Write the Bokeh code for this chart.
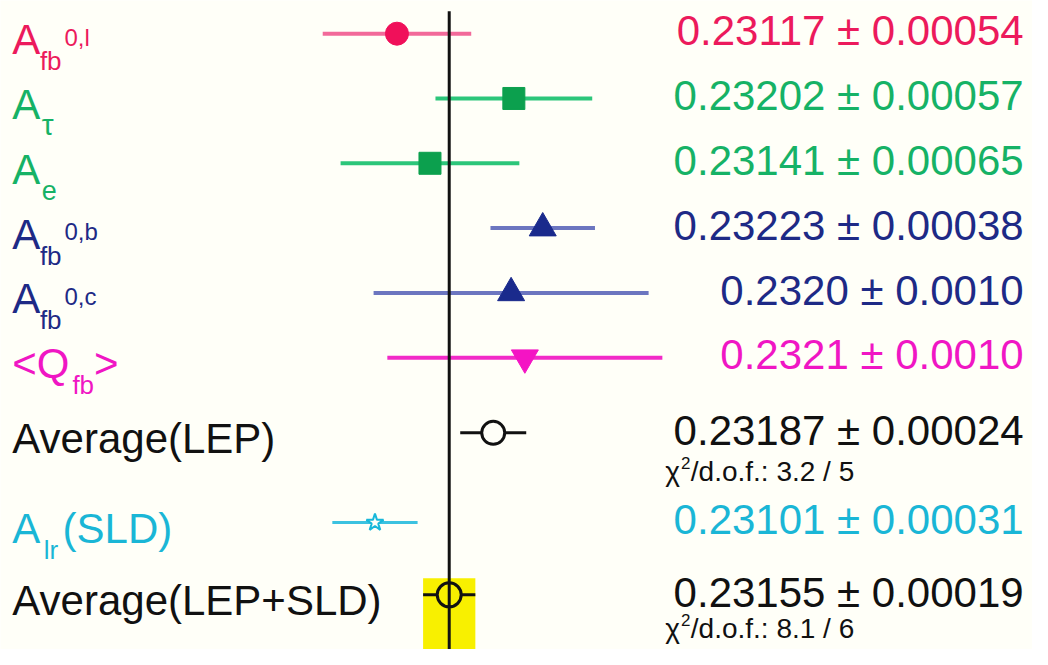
from bokeh.plotting import figure
from bokeh.models import Range1d
from bokeh.embed import file_html
from bokeh.resources import INLINE
from bokeh.core.properties import value

# ---------------- data ----------------
labels_main = ["A", "A", "A", "A", "A", "<Q", "Average(LEP)", "A", "Average(LEP+SLD)"]
labels_sub = ["fb", "τ", "e", "fb", "fb", "fb", "", "lr", ""]
labels_sup = ["0,l", "", "", "0,b", "0,c", "", "", "", ""]
labels_tail = ["", "", "", "", "", ">", "", "(SLD)", ""]
values = [0.23117, 0.23202, 0.23141, 0.23223, 0.2320, 0.2321, 0.23187, 0.23101, 0.23155]
errors = [0.00054, 0.00057, 0.00065, 0.00038, 0.0010, 0.0010, 0.00024, 0.00031, 0.00019]
value_texts = ["0.23117 ± 0.00054", "0.23202 ± 0.00057", "0.23141 ± 0.00065",
               "0.23223 ± 0.00038", "0.2320 ± 0.0010", "0.2321 ± 0.0010",
               "0.23187 ± 0.00024", "0.23101 ± 0.00031", "0.23155 ± 0.00019"]
chi2_rows = [6, 8]
chi2_texts = ["/d.o.f.: 3.2 / 5", "/d.o.f.: 8.1 / 6"]
average_value = 0.23155
average_error = 0.00019

# ---------------- style / layout ----------------
BG = "#fffff8"
FONT = value("Liberation Sans")
text_colors = ["#ec1a5c", "#16b266", "#16b266", "#1e2a86", "#1e2a86", "#f016c4", "#111111", "#1ab6d6", "#111111"]
mark_colors = ["#f0105a", "#0ca04e", "#0ca04e", "#1a2a8c", "#1a2a8c", "#f414c4", "#111111", "#18b8da", "#111111"]
bar_colors = ["#f26a9a", "#2cc67a", "#2cc67a", "#6c76c0", "#6c76c0", "#f22ac8", "#111111", "#3cc2e0", "#111111"]
markers = ["circle", "square", "square", "triangle", "triangle", "inverted_triangle", "circle", "star", "circle"]
sizes = [23, 22, 22, 27, 27, 27, 23, 18, 24]
fills = ["#f0105a", "#0ca04e", "#0ca04e", "#1a2a8c", "#1a2a8c", "#f414c4", BG, BG, "#f8f000"]
mark_lw = [1, 1, 1, 1, 1, 1, 3, 2, 3]
bar_lw = [4, 4, 4, 4, 4, 4, 3, 3, 3]
row_pos = [0, 1, 2, 3, 4, 5, 6.16, 7.545, 8.66]
sub_x = [40, 42, 42, 40, 40, 73, 0, 44, 0]
sub_fs = [26, 30, 27, 26, 26, 26, 0, 26, 0]
sup_x = [65, 0, 0, 65, 65, 0, 0, 0, 0]
tail_x = [0, 0, 0, 0, 0, 95, 0, 63, 0]

# reference-pixel geometry, scaled into the figure
REF_W, REF_H = 1048, 665
W, H = 1032, 649
SX, SY = W / REF_W, H / REF_H
REF_PX_PER_UNIT = 139640.0
X_REF_VAL, X_REF_PX = 0.2317067, 477.56
x_start = X_REF_VAL - X_REF_PX / REF_PX_PER_UNIT
x_end = X_REF_VAL + (REF_W - X_REF_PX) / REF_PX_PER_UNIT
ROW_PITCH, ROW0_PX = 66.4, 34.0
y_top = -ROW0_PX / ROW_PITCH
y_bot = (REF_H - ROW0_PX) / ROW_PITCH

p = figure(width=W, height=H, x_range=Range1d(x_start, x_end), y_range=Range1d(y_bot, y_top),
           output_backend="svg", toolbar_location=None, min_border=0,
           x_axis_location=None, y_axis_location=None)
p.grid.visible = False
p.outline_line_color = None
p.background_fill_color = BG
p.border_fill_color = BG

# yellow band of the combined average
band_top = row_pos[8] - (609 - 592) / ROW_PITCH
p.quad(left=[average_value - average_error], right=[average_value + average_error],
       top=[band_top], bottom=[y_bot + 1], fill_color="#f8f000", line_color=None)

# error bars and markers
for i in range(len(values)):
    v, e, y = values[i], errors[i], row_pos[i]
    p.segment(x0=[v - e], x1=[v + e], y0=[y], y1=[y], line_color=bar_colors[i], line_width=bar_lw[i])
    p.scatter(x=[v], y=[y], marker=markers[i], size=sizes[i], fill_color=fills[i],
              line_color=mark_colors[i], line_width=mark_lw[i])

# vertical reference line at the average
line_top = (11 - ROW0_PX) / ROW_PITCH
p.segment(x0=[average_value], x1=[average_value], y0=[line_top], y1=[y_bot + 1],
          line_color="#111111", line_width=3)


def put_text(y, txt, ref_x, ref_dy, fs, color, align="left", anchor=None):
    """ref_x: left x in reference pixels; ref_dy: baseline offset below row centre."""
    x0 = x_start if anchor is None else anchor
    p.text(x=[x0], y=[y], text=[txt], x_offset=ref_x * SX, y_offset=ref_dy * SY - 0.37 * fs,
           text_font=FONT, text_font_size=f"{fs}px", text_color=color,
           text_baseline="alphabetic", text_align=align)


# left labels
for i in range(len(values)):
    y = row_pos[i]
    put_text(y, labels_main[i], 12, 22, 42, text_colors[i])
    if labels_sub[i]:
        put_text(y, labels_sub[i], sub_x[i], 38, sub_fs[i], text_colors[i])
    if labels_sup[i]:
        put_text(y, labels_sup[i], sup_x[i], 13, 24, text_colors[i])
    if labels_tail[i]:
        put_text(y, labels_tail[i], tail_x[i], 22, 42, text_colors[i])

# right value texts
for i in range(len(values)):
    put_text(row_pos[i], value_texts[i], -(REF_W - 1039), 13, 42, text_colors[i],
             align="right", anchor=x_end)

# chi2 texts
chi_off = [50, 45]
for k in range(len(chi2_rows)):
    y = row_pos[chi2_rows[k]]
    put_text(y, "χ", 675, chi_off[k], 28, "#111111")
    put_text(y, "2", 691, chi_off[k] - 13, 17, "#111111")
    put_text(y, chi2_texts[k], 701, chi_off[k], 28, "#111111")

open("out.html", "w").write(file_html(p, INLINE))
